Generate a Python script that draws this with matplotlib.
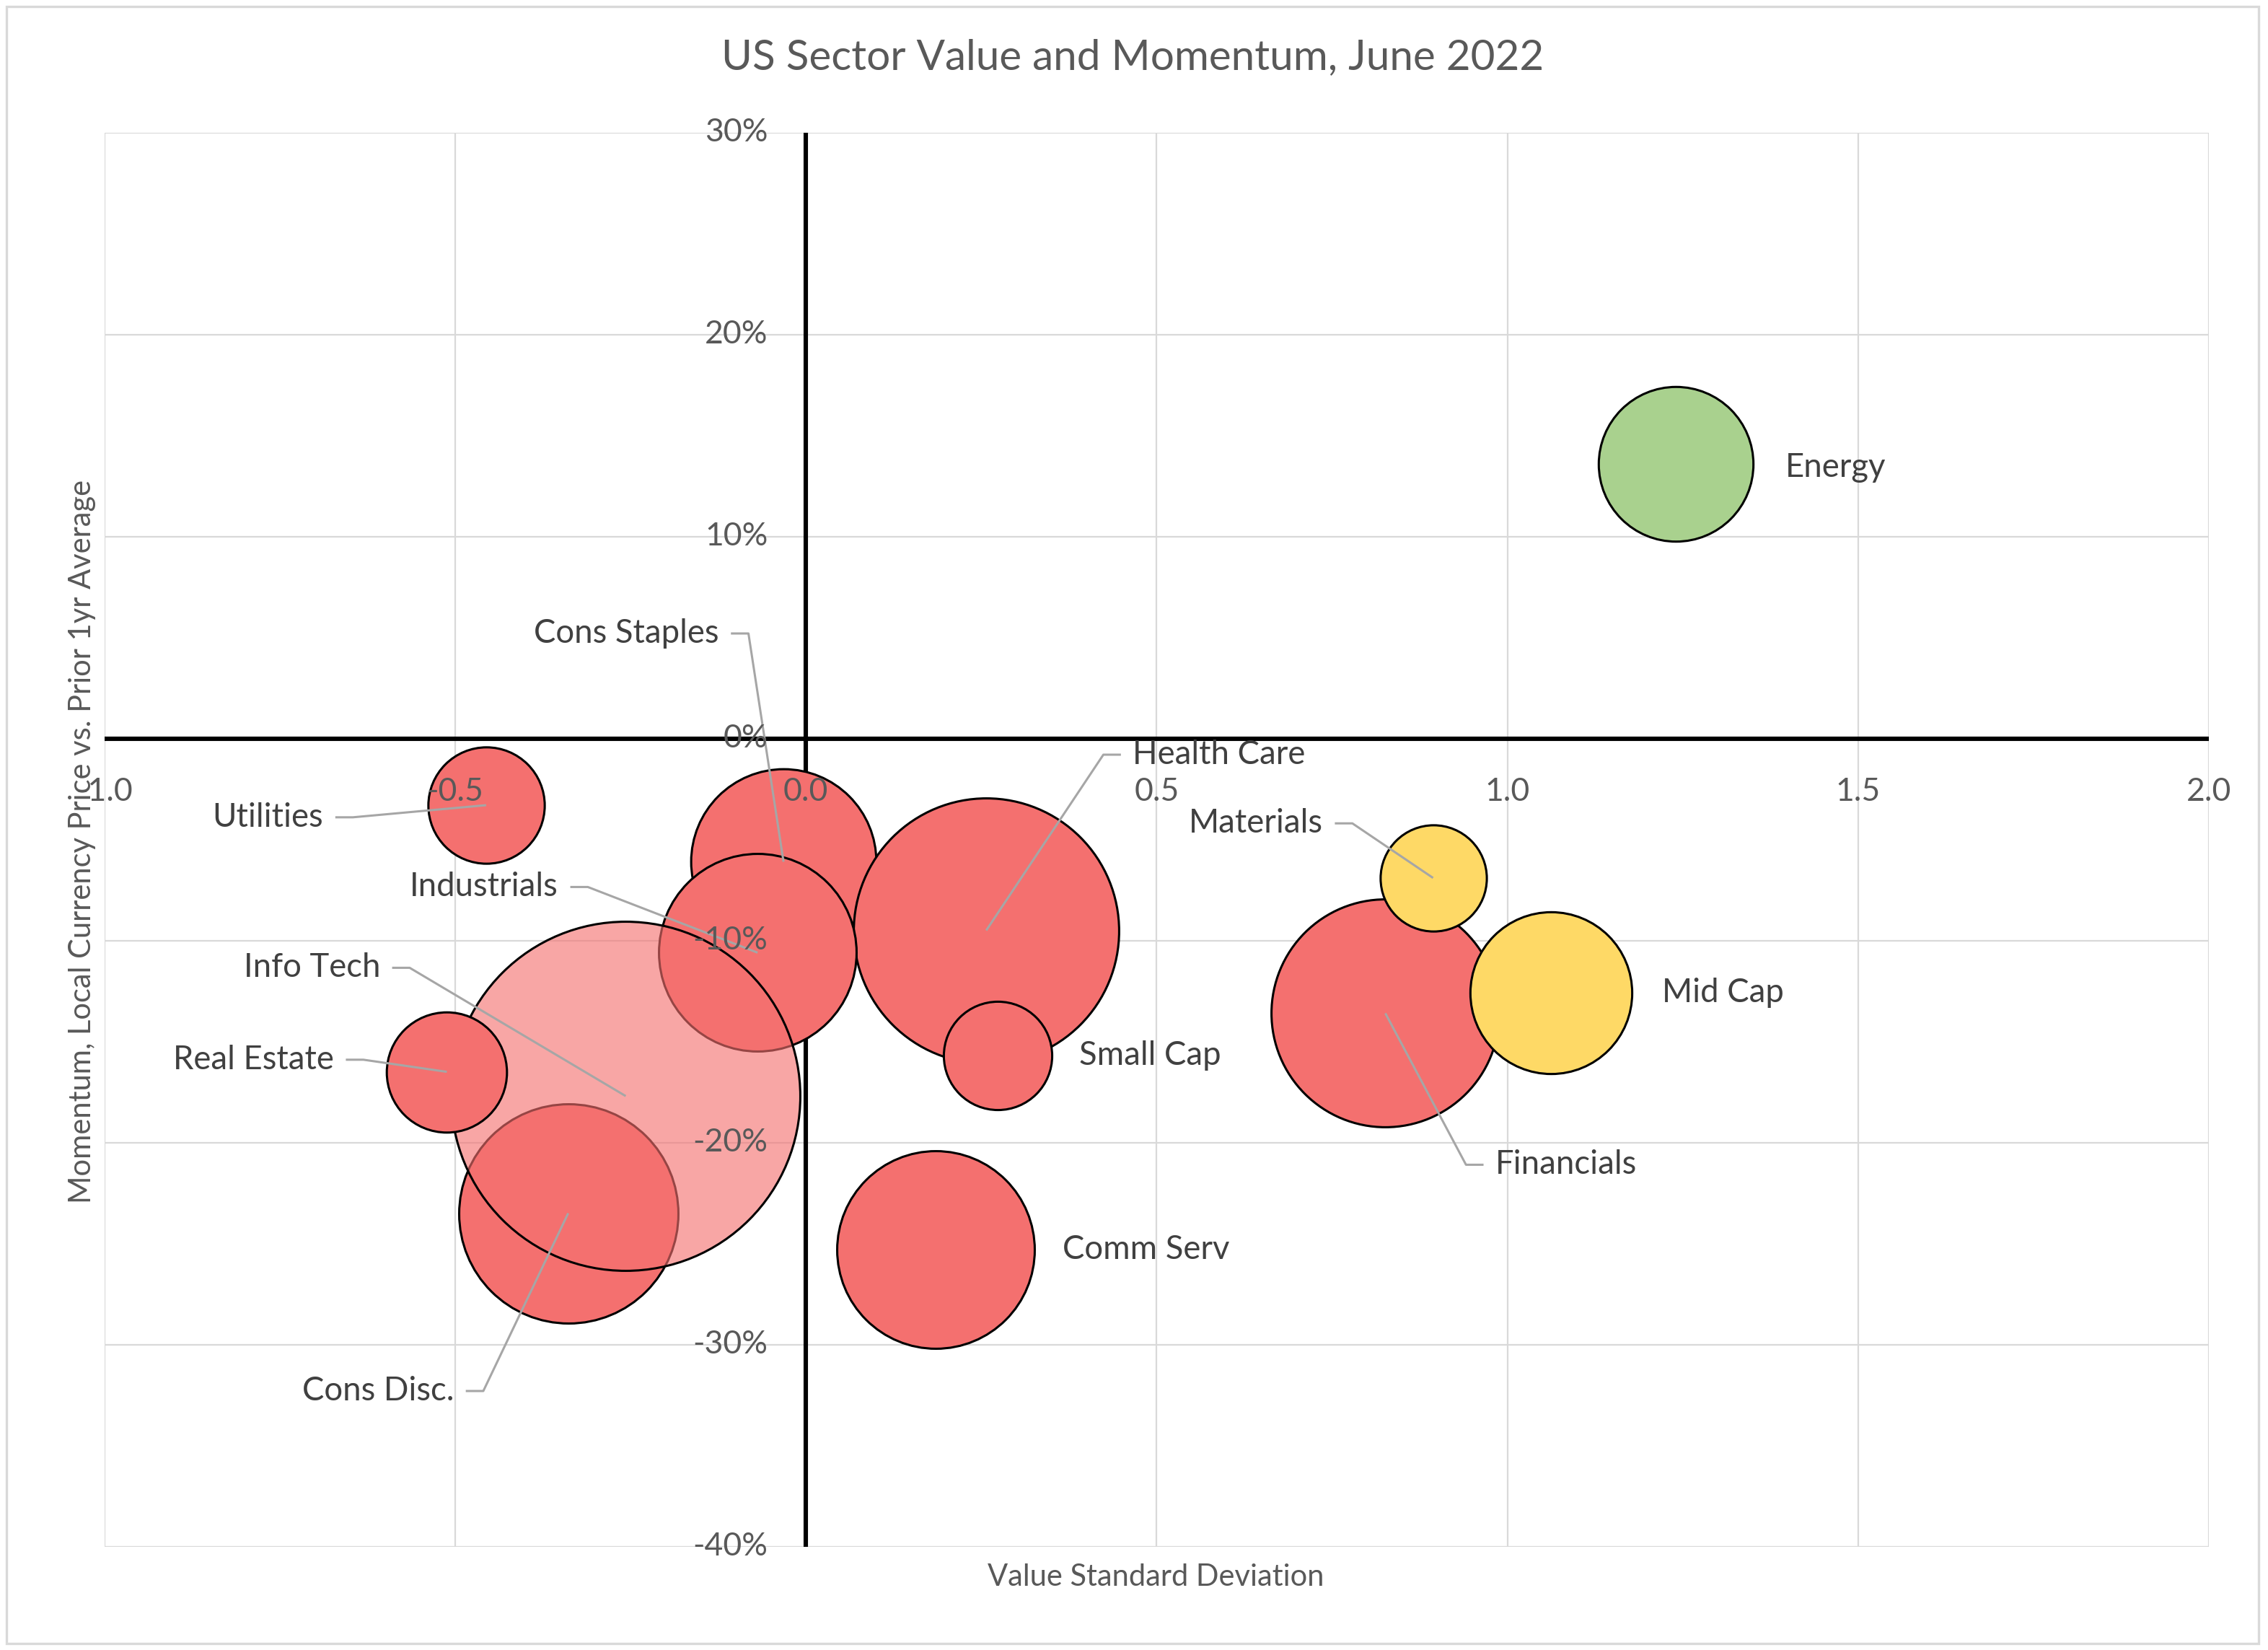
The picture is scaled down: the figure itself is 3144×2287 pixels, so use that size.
import matplotlib
matplotlib.use("Agg")
import matplotlib.pyplot as plt
from matplotlib.patches import Rectangle
from matplotlib.transforms import offset_copy

plt.rcParams['font.family'] = ['Lato', 'DejaVu Sans']

# sector data: value z-score, momentum (%), bubble weight (% of index)
names    = ['Cons Staples', 'Health Care', 'Industrials', 'Cons Disc.', 'Info Tech',
            'Real Estate', 'Utilities', 'Small Cap', 'Comm Serv', 'Financials',
            'Materials', 'Mid Cap', 'Energy']
value    = [-0.032, 0.257, -0.069, -0.339, -0.257, -0.512, -0.456, 0.273, 0.185,
            0.826, 0.894, 1.062, 1.240]
momentum = [-6.1, -9.5, -10.6, -23.5, -17.7, -16.5, -3.3, -15.7, -25.3,
            -13.6, -6.9, -12.6, 13.6]
weight   = [7.6, 15.6, 8.65, 10.65, 27.0, 3.2, 3.0, 2.6, 8.65, 11.5, 2.5, 5.8, 5.3]
group    = ['neg', 'neg', 'neg', 'neg', 'tech', 'neg', 'neg', 'neg', 'neg', 'neg',
            'mid', 'mid', 'pos']

x_ticks = [-1.0, -0.5, 0.0, 0.5, 1.0, 1.5, 2.0]
y_ticks = [30, 20, 10, 0, -10, -20, -30, -40]

# label placement (data coords of text anchor, alignment, leader line?)
label_pos = {
    'Energy':       (1.396, 13.4, 'left', False),
    'Cons Staples': (-0.124, 5.2, 'right', True),
    'Health Care':  (0.466, -0.8, 'left', True),
    'Utilities':    (-0.688, -3.9, 'right', True),
    'Materials':    (0.737, -4.2, 'right', True),
    'Industrials':  (-0.353, -7.35, 'right', True),
    'Info Tech':    (-0.607, -11.35, 'right', True),
    'Mid Cap':      (1.220, -12.6, 'left', False),
    'Small Cap':    (0.390, -15.7, 'left', False),
    'Real Estate':  (-0.673, -15.9, 'right', True),
    'Financials':   (0.983, -21.1, 'left', True),
    'Comm Serv':    (0.366, -25.3, 'left', False),
    'Cons Disc.':   (-0.502, -32.3, 'right', True),
}

colors = {'neg': '#F4706F', 'tech': (0.957, 0.439, 0.435, 0.62),
          'mid': '#FED966', 'pos': '#A9D18E'}
text_col = '#595959'
label_col = '#404040'
grid_col = '#D9D9D9'
lead_col = '#A6A6A6'
size_scale = 1124.0

fig = plt.figure(figsize=(15.72, 11.435), dpi=200)
ax = fig.add_axes([0.0461, 0.0627, 0.9278, 0.857])

ax.set_xlim(-1.0, 2.0)
ax.set_ylim(-40, 30)
ax.set_xticks(x_ticks)
ax.set_yticks(y_ticks)
ax.tick_params(length=0, labelbottom=False, labelleft=False)
ax.grid(True, color=grid_col, lw=0.8, zorder=0)
for s in ax.spines.values():
    s.set_visible(False)
ax.set_axisbelow(True)

ax.axhline(0, color='black', lw=2.2, zorder=1)
ax.axvline(0, color='black', lw=2.2, zorder=1)

for i in range(len(names)):
    ax.scatter(value[i], momentum[i], s=weight[i] * size_scale,
               facecolor=colors[group[i]], edgecolor='black', linewidths=1.1,
               zorder=3 + i)

# leader lines
gap = 0.017
seg = 0.025
for i, n in enumerate(names):
    lx, ly, ha, lead = label_pos[n]
    if lead:
        sgn = 1 if ha == 'right' else -1
        x0 = lx + sgn * gap
        x1 = x0 + sgn * seg
        ax.plot([x0, x1, value[i]], [ly, ly, momentum[i]], color=lead_col,
                lw=1.1, zorder=30, solid_capstyle='butt')
    ax.text(lx, ly, n, ha=ha, va='center', fontsize=16.4, color=label_col, zorder=31)

# tick labels at the axis crossing
ytr = offset_copy(ax.transData, fig=fig, x=-19, y=0, units='points')
for v in y_ticks:
    ax.text(0, v, '%d%%' % v, transform=ytr, ha='right', va='center',
            fontsize=16, color=text_col, zorder=32)
xtr = offset_copy(ax.transData, fig=fig, x=0, y=-26.5, units='points')
for v in x_ticks:
    ax.text(v, 0, '%.1f' % v, transform=xtr, ha='center', va='center',
            fontsize=16, color=text_col, zorder=32)

fig.text(0.4994, 0.965, 'US Sector Value and Momentum, June 2022', ha='center',
         va='center', fontsize=21, color=text_col)
fig.text(0.5097, 0.044, 'Value Standard Deviation', ha='center', va='center',
         fontsize=15, color=text_col)
fig.text(0.0364, 0.490, 'Momentum, Local Currency Price vs. Prior 1yr Average',
         ha='center', va='center', rotation=90, fontsize=15, color=text_col)

fig.patches.append(Rectangle((0.003, 0.004), 0.993, 0.992, transform=fig.transFigure,
                             fill=False, edgecolor=grid_col, lw=1.2))

fig.savefig('out.png', dpi=200, facecolor='white')
